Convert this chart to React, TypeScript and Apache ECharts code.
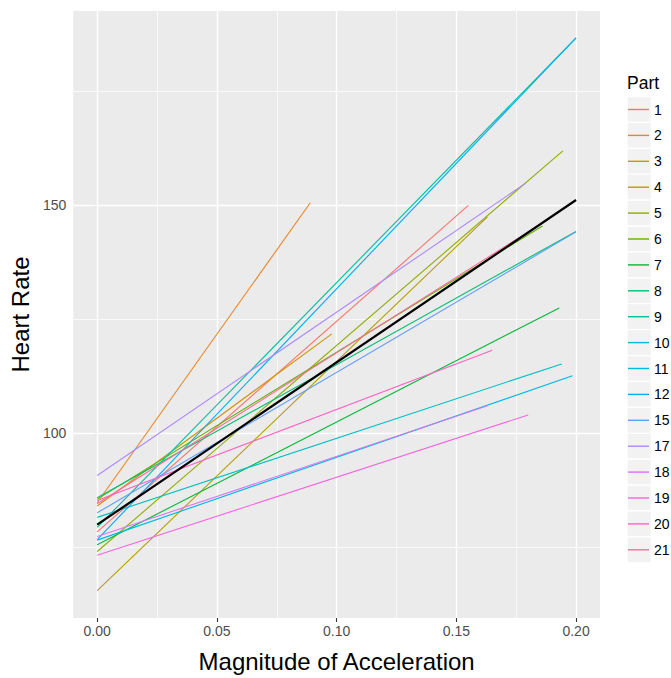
import React, { useEffect, useRef } from "react";
import * as echarts from "echarts";

// ---- data ----
const parts = ["1", "2", "3", "4", "5", "6", "7", "8", "9", "10", "11", "12", "15", "17", "18", "19", "20", "21"];
const startAcc = [0, 0, 0, 0, 0, 0, 0, 0, 0, 0, 0, 0, 0, 0, 0, 0, 0, 0];
const startHR = [78.3, 84.7, 84.0, 65.4, 74.0, 85.5, 75.5, 85.8, 79.3, 81.5, 76.5, 76.6, 82.5, 90.7, 77.3, 73.2, 85.2, 84.5];
const endAcc = [0.155, 0.089, 0.098, 0.163, 0.1945, 0.186, 0.193, 0.2, 0.2, 0.194, 0.1985, 0.2, 0.2, 0.179, 0.163, 0.18, 0.165, 0.184];
const endHR = [150.0, 150.6, 121.8, 147.5, 162.0, 145.5, 127.5, 144.3, 186.8, 115.2, 112.6, 186.8, 144.2, 154.9, 106.0, 104.0, 118.2, 145.5];

const overallAcc = [0, 0.2];
const overallHR = [79.9, 151.2];

const xRange = [-0.01, 0.21];
const yRange = [59.4, 192.7];
const xMajor = [0, 0.05, 0.1, 0.15, 0.2];
const xMinor = [0.025, 0.075, 0.125, 0.175];
const yMajor = [100, 150];
const yMinor = [75, 125, 175];
const xLabels = ["0.00", "0.05", "0.10", "0.15", "0.20"];

const FONT = "Liberation Sans, Arial, Helvetica, sans-serif";

// ggplot2 hue palette (HCL, c=100, l=65)
function hcl(h: number, c = 100, l = 65): string {
  const hr = (h * Math.PI) / 180;
  const U = c * Math.cos(hr);
  const V = c * Math.sin(hr);
  const WY = 100, Wu = 0.1978398, Wv = 0.4683363;
  const Y = l > 7.999592 ? WY * Math.pow((l + 16) / 116, 3) : (WY * l) / 903.3;
  const u = U / (13 * l) + Wu;
  const v = V / (13 * l) + Wv;
  const X = (9.0 * Y * u) / (4 * v);
  const Z = -X / 3 - 5 * Y + (3 * Y) / v;
  const gam = (q: number) => (q > 0.00304 ? 1.055 * Math.pow(q, 1 / 2.4) - 0.055 : 12.92 * q);
  const r = gam((3.240479 * X - 1.53715 * Y - 0.498535 * Z) / WY);
  const g = gam((-0.969256 * X + 1.875992 * Y + 0.041556 * Z) / WY);
  const b = gam((0.055648 * X - 0.204043 * Y + 1.057311 * Z) / WY);
  const to = (q: number) => {
    const n = Math.round(Math.max(0, Math.min(1, q)) * 255);
    return n.toString(16).padStart(2, "0");
  };
  return "#" + to(r) + to(g) + to(b);
}

const colors = parts.map((_, i) => hcl(15 + (360 / parts.length) * i));

export default function App() {
  const ref = useRef<HTMLDivElement>(null);
  useEffect(() => {
    if (!ref.current) return;
    const chart = echarts.init(ref.current, undefined, { renderer: "svg" });

    const lineSeries = parts.map((p, i) => ({
      name: p,
      type: "line",
      z: 2,
      color: colors[i],
      symbol: "none",
      silent: true,
      lineStyle: { color: colors[i], width: 1.1 },
      data: [
        [startAcc[i], startHR[i]],
        [endAcc[i], endHR[i]],
      ],
    }));

    const vLine = (v: number, w: number) => [
      { coord: [v, yRange[0]], lineStyle: { color: "#fff", width: w, type: "solid" } },
      { coord: [v, yRange[1]] },
    ];
    const hLine = (v: number, w: number) => [
      { coord: [xRange[0], v], lineStyle: { color: "#fff", width: w, type: "solid" } },
      { coord: [xRange[1], v] },
    ];

    const gridSeries = {
      name: "grid",
      type: "line",
      data: [],
      z: 1,
      silent: true,
      markLine: {
        z: 1,
        silent: true,
        symbol: ["none", "none"],
        label: { show: false },
        animation: false,
        lineStyle: { color: "#fff", type: "solid" },
        data: [
          ...xMinor.map((v) => vLine(v, 0.7)),
          ...yMinor.map((v) => hLine(v, 0.7)),
          ...xMajor.map((v) => vLine(v, 1.4)),
          ...yMajor.map((v) => hLine(v, 1.4)),
        ],
      },
    };

    const overall = {
      name: "overall",
      type: "line",
      z: 3,
      symbol: "none",
      silent: true,
      color: "#000",
      lineStyle: { color: "#000", width: 2.2 },
      data: overallAcc.map((x, i) => [x, overallHR[i]]),
    };

    const keyTop = 96.55;
    const keyStep = 25.9;
    const keyRects = parts.map((_, i) => ({
      type: "rect",
      z: 0,
      shape: { x: 627, y: keyTop + i * keyStep, width: 24.3, height: keyStep },
      style: { fill: "#F2F2F2", stroke: "#fff", lineWidth: 1.2 },
      silent: true,
    }));

    chart.setOption({
      animation: false,
      backgroundColor: "#fff",
      textStyle: { fontFamily: FONT },
      grid: {
        left: 71,
        top: 11,
        width: 529,
        height: 616,
        show: true,
        backgroundColor: "#EBEBEB",
        borderWidth: 0,
        containLabel: false,
      },
      xAxis: {
        type: "value",
        min: xRange[0],
        max: xRange[1],
        name: "Magnitude of Acceleration",
        nameLocation: "middle",
        nameGap: 31,
        nameTextStyle: { fontSize: 24, color: "#000", fontFamily: FONT },
        axisLine: { show: false },
        splitLine: { show: false },
        axisTick: {
          show: true,
          customValues: xMajor,
          length: 4,
          lineStyle: { color: "#333", width: 1.1 },
        },
        axisLabel: {
          customValues: xMajor,
          margin: 6,
          fontSize: 14,
          color: "#4D4D4D",
          fontFamily: FONT,
          formatter: (v: number) => {
            const idx = xMajor.findIndex((m) => Math.abs(m - v) < 1e-9);
            return idx >= 0 ? xLabels[idx] : "";
          },
        },
      },
      yAxis: {
        type: "value",
        min: yRange[0],
        max: yRange[1],
        name: "Heart Rate",
        nameLocation: "middle",
        nameGap: 29,
        nameTextStyle: { fontSize: 24, color: "#000", fontFamily: FONT },
        axisLine: { show: false },
        splitLine: { show: false },
        axisTick: {
          show: true,
          customValues: yMajor,
          length: 4,
          lineStyle: { color: "#333", width: 1.1 },
        },
        axisLabel: {
          customValues: yMajor,
          margin: 7,
          fontSize: 14,
          color: "#4D4D4D",
          fontFamily: FONT,
        },
      },
      legend: {
        data: parts,
        orient: "vertical",
        left: 628,
        top: keyTop,
        padding: 0,
        itemGap: 0,
        itemWidth: 21,
        itemHeight: 1.4,
        icon: "rect",
        selectedMode: false,
        z: 5,
        textStyle: { fontSize: 14, lineHeight: keyStep, color: "#000", fontFamily: FONT },
      },
      graphic: [
        ...keyRects,
        {
          type: "text",
          z: 0,
          x: 627,
          y: 83,
          style: {
            text: "Part",
            fontSize: 17.5,
            fontFamily: FONT,
            fill: "#000",
            textVerticalAlign: "middle",
            verticalAlign: "middle",
          },
        },
      ],
      series: [gridSeries, ...lineSeries, overall],
    });
    return () => chart.dispose();
  }, []);
  return (
    <div
      ref={ref}
      style={{ position: "fixed", left: 0, top: 0, width: 671, height: 678 }}
    />
  );
}
